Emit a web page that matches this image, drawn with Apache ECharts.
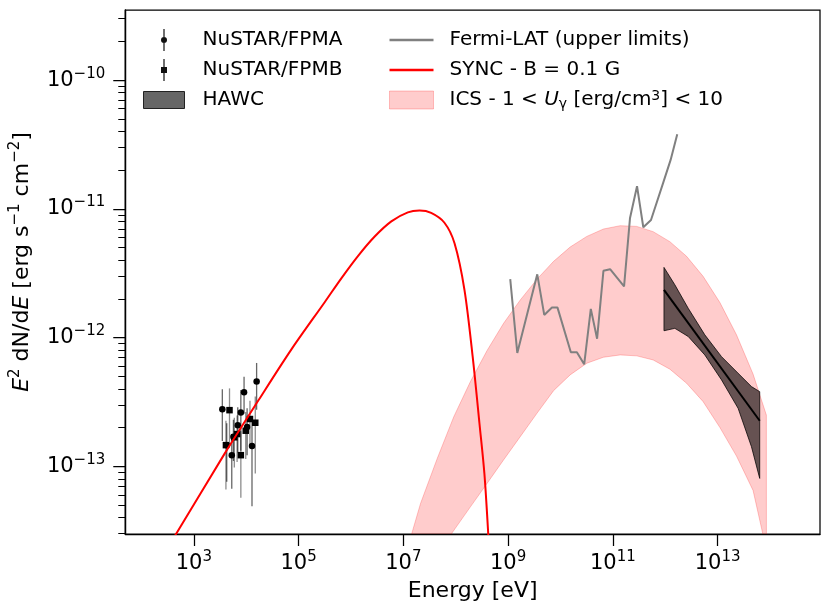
<!DOCTYPE html>
<html>
<head>
<meta charset="utf-8">
<title>SED - NuSTAR / Fermi-LAT / HAWC</title>
<script src="https://cdn.jsdelivr.net/npm/echarts@6/dist/echarts.min.js"></script>
<style>
  html, body { margin: 0; padding: 0; background: #fff; }
  #chart { width: 830px; height: 616px; }
</style>
</head>
<body>
<div id="chart"></div>
<script>
// ---- data (energy in eV, flux in erg s^-1 cm^-2) ----
// NuSTAR
var fpmaE   = [3.5e3, 4.25e3, 5.3e3, 5.7e3, 6.9e3, 7.9e3, 9.1e3, 1.04e4, 1.29e4, 1.58e4];
var fpmaF   = [2.77e-13, 1.46e-13, 1.22e-13, 1.7e-13, 2.08e-13, 2.62e-13, 3.76e-13, 2.02e-13, 1.44e-13, 4.55e-13];
var fpmaErr = [1.2e-13, 0.7e-13, 0.55e-13, 0.6e-13, 0.8e-13, 1.3e-13, 1.2e-13, 0.8e-13, 0.95e-13, 1.8e-13];
var fpmbE   = [4.1e3, 4.8e3, 5.93e3, 6.7e3, 7.9e3, 9.8e3, 1.18e4, 1.49e4];
var fpmbF   = [1.46e-13, 2.73e-13, 1.68e-13, 1.78e-13, 1.22e-13, 1.89e-13, 2.33e-13, 2.18e-13];
var fpmbErr = [0.8e-13, 1.3e-13, 0.7e-13, 0.7e-13, 0.65e-13, 0.75e-13, 0.9e-13, 1.3e-13];

// synchrotron model, B = 0.1 G
var syncE = [2.5e2, 4.4e2, 3.9e3, 1.7e4, 7.3e4, 3.2e5, 6.6e5, 1.36e6, 2.84e6, 5.9e6, 1.22e7,
             2.04e7, 3.4e7, 6.1e7, 9.5e7, 1.47e8, 2.11e8, 2.84e8, 3.53e8, 4.2e8, 5.0e8];
var syncF = [2.0e-14, 2.9e-14, 1.26e-13, 3.24e-13, 8.1e-13, 1.9e-12, 2.9e-12, 4.3e-12, 6.1e-12, 8.0e-12, 9.4e-12,
             9.7e-12, 9.3e-12, 7.8e-12, 5.4e-12, 2.35e-12, 7.1e-13, 2.16e-13, 8.8e-14, 2.9e-14, 8e-15];

// ICS band, upper edge (U = 10) and lower edge (U = 1)
var icsUpE = [1.0e7, 1.42e7, 2.13e7, 4.44e7, 9.2e7, 1.91e8, 3.97e8, 8.2e8, 1.71e9, 3.56e9, 7.4e9, 1.53e10,
              3.19e10, 6.6e10, 1.38e11, 2.86e11, 5.9e11, 1.23e12, 2.56e12, 5.3e12, 1.11e13, 2.30e13,
              4.76e13, 8.55e13, 8.6e13];
var icsUpF = [1.8e-14, 2.92e-14, 5.14e-14, 1.15e-13, 2.43e-13, 4.55e-13, 7.93e-13, 1.29e-12, 1.96e-12, 2.84e-12,
              3.91e-12, 5.05e-12, 6.11e-12, 6.97e-12, 7.40e-12, 7.31e-12, 6.65e-12, 5.56e-12, 4.28e-12,
              2.99e-12, 1.87e-12, 1.05e-12, 5.21e-13, 2.50e-13, 1e-15];
var icsLoE = [4.0e7, 7.96e7, 1.91e8, 3.97e8, 8.2e8, 1.71e9, 3.56e9, 7.4e9, 1.53e10, 3.19e10, 6.6e10,
              1.38e11, 2.86e11, 5.9e11, 1.23e12, 2.56e12, 5.3e12, 1.11e13, 2.30e13, 4.76e13, 7.4e13, 8.6e13];
var icsLoF = [6e-15, 2.92e-14, 4.84e-14, 7.36e-14, 1.12e-13, 1.70e-13, 2.58e-13, 3.87e-13, 5.13e-13, 6.32e-13,
              7.03e-13, 7.33e-13, 7.21e-13, 6.70e-13, 5.68e-13, 4.42e-13, 3.18e-13, 2.0e-13, 1.20e-13,
              6.5e-14, 2.92e-14, 1e-15];

// Fermi-LAT upper limits
var fermiE = [1.10e9, 1.50e9, 3.61e9, 4.91e9, 6.89e9, 8.79e9, 1.58e10, 2.06e10, 2.84e10, 3.80e10, 5.01e10,
              6.62e10, 8.87e10, 1.64e11, 2.13e11, 2.90e11, 3.82e11, 5.36e11, 9.18e11, 1.27e12, 1.70e12];
var fermiF = [2.85e-12, 7.6e-13, 3.1e-12, 1.5e-12, 1.71e-12, 1.71e-12, 7.7e-13, 7.7e-13, 6.2e-13, 1.67e-12, 9.8e-13,
              3.3e-12, 3.4e-12, 2.5e-12, 8.5e-12, 1.5e-11, 7.2e-12, 8.2e-12, 1.6e-11, 2.4e-11, 3.8e-11];

// HAWC butterfly and best fit
var hawcE   = [9.48e11, 1.53e12, 2.75e12, 5.71e12, 1.19e13, 2.47e13, 4.44e13, 6.38e13];
var hawcUpF = [3.51e-12, 2.57e-12, 1.69e-12, 1.05e-12, 7.11e-13, 5.28e-13, 4.16e-13, 3.80e-13];
var hawcLoF = [1.13e-12, 1.18e-12, 1.02e-12, 7.33e-13, 4.69e-13, 2.82e-13, 1.42e-13, 8.05e-14];
var hawcFitE = [9.48e11, 6.38e13];
var hawcFitF = [2.35e-12, 2.26e-13];

// axis ticks (powers of ten)
var xTickPowers = [3, 5, 7, 9, 11, 13];
var yTickPowers = [-13, -12, -11, -10];

// ---- helpers ----
var FONT = 'DejaVu Sans';
var xMin = 1.691, xMax = 14.956;
var yMin = -13.526, yMax = -9.455;

function lg(v) { return Math.log10(v); }
function pairs(E, F) {
  return E.map(function (e, i) { return [lg(e), lg(F[i])]; });
}
function errRows(E, F, Err) {
  return E.map(function (e, i) { return [lg(e), lg(F[i] + Err[i]), lg(F[i] - Err[i])]; });
}
function bandPoints(E, upF, loE, loF) {
  var up = pairs(E, upF);
  var lo = pairs(loE, loF).reverse();
  return up.concat(lo);
}

// minor ticks on y: 2..9 x 10^n inside the range
var yMinor = [];
for (var n = -14; n <= -10; n++) {
  for (var k = 2; k <= 9; k++) {
    var t = n + Math.log10(k);
    if (t > yMin && t < yMax) yMinor.push(t);
  }
}

function polygonRender(points, fill, stroke, width) {
  return function (params, api) {
    return {
      type: 'polygon',
      shape: { points: points.map(function (p) { return api.coord(p); }) },
      style: { fill: fill, stroke: stroke, lineWidth: width }
    };
  };
}
function errRender(color) {
  return function (params, api) {
    var a = api.coord([api.value(0), api.value(1)]);
    var b = api.coord([api.value(0), api.value(2)]);
    return {
      type: 'line',
      shape: { x1: a[0], y1: a[1], x2: b[0], y2: b[1] },
      style: { stroke: color, lineWidth: 1.3 }
    };
  };
}

var icsName = 'ICS - 1 < Uγ [erg/cm3] < 10';
var icsFill = 'rgba(255,0,0,0.2)';
var icsEdge = 'rgba(255,0,0,0.22)';
var hawcFill = 'rgba(0,0,0,0.6)';
var lineIcon = 'path://M0,0h44v2.6h-44z';

var supStyle = { fontFamily: FONT, fontSize: 15, lineHeight: 18, verticalAlign: 'top', color: '#000' };
var baseStyle = { fontFamily: FONT, fontSize: 21, lineHeight: 28, color: '#000' };

var chart = echarts.init(document.getElementById('chart'));

var option = {
  animation: false,
  backgroundColor: '#fff',
  grid: {
    left: 124, right: 10, top: 10, bottom: 82,
    show: true, borderColor: '#000', borderWidth: 1.25, backgroundColor: 'transparent'
  },
  legend: [{
    orient: 'vertical', left: 143, top: 29, padding: 0,
    itemWidth: 41, itemHeight: 22, itemGap: 8,
    selectedMode: false,
    textStyle: { fontFamily: FONT, fontSize: 20, lineHeight: 22, color: '#000', padding: [0, 0, 0, 13] },
    data: [
      { name: 'NuSTAR/FPMA', icon: 'path://M2.4,0h1.2v8h-1.2zM2.4,14h1.2v8h-1.2zM0,11A3,3 0 1,1 6,11A3,3 0 1,1 0,11z', itemStyle: { color: '#111' } },
      { name: 'NuSTAR/FPMB', icon: 'path://M2.4,0h1.2v8h-1.2zM2.4,14h1.2v8h-1.2zM0,8h6v6h-6z', itemStyle: { color: '#111' } },
      { name: 'HAWC', icon: 'path://M0,0h41v17h-41z', itemStyle: { color: hawcFill, borderColor: '#222', borderWidth: 1 } }
    ]
  }, {
    orient: 'vertical', left: 389, top: 29, padding: 0,
    itemWidth: 44, itemHeight: 22, itemGap: 8,
    selectedMode: false,
    textStyle: {
      fontFamily: FONT, fontSize: 20, lineHeight: 22, color: '#000', padding: [0, 0, 0, 11],
      rich: {
        i: { fontFamily: FONT, fontSize: 20, fontStyle: 'italic', color: '#000' },
        sub: { fontFamily: FONT, fontSize: 14, lineHeight: 14, verticalAlign: 'bottom', color: '#000' },
        sup: { fontFamily: FONT, fontSize: 14, lineHeight: 14, verticalAlign: 'top', color: '#000' }
      }
    },
    formatter: function (name) {
      if (name === icsName) return 'ICS - 1 < {i|U}{sub|γ} [erg/cm{sup|3}] < 10';
      return name;
    },
    data: [
      { name: 'Fermi-LAT (upper limits)', icon: lineIcon, itemStyle: { color: '#808080' } },
      { name: 'SYNC - B = 0.1 G', icon: lineIcon, itemStyle: { color: '#ff0000' } },
      { name: icsName, icon: 'path://M0,0h44v18h-44z', itemStyle: { color: icsFill, borderColor: icsEdge, borderWidth: 1 } }
    ]
  }],
  xAxis: {
    type: 'value', min: xMin, max: xMax,
    name: 'Energy [eV]', nameLocation: 'middle', nameGap: 46,
    nameTextStyle: { fontFamily: FONT, fontSize: 22, color: '#000' },
    axisLine: { show: true, onZero: false, lineStyle: { color: '#000', width: 1.25 } },
    axisTick: { show: true, length: 12, lineStyle: { color: '#000', width: 1.25 }, customValues: xTickPowers },
    axisLabel: {
      customValues: xTickPowers, margin: 16,
      formatter: function (v) { return '{b|10}{s|' + v + '}'; },
      rich: { b: baseStyle, s: supStyle }
    },
    splitLine: { show: false }
  },
  yAxis: [{
    type: 'value', min: yMin, max: yMax,
    name: '{i|E}{s|2} dN/d{i|E} [erg s{s|−1} cm{s|−2}]',
    nameLocation: 'middle', nameGap: 82, nameRotate: 90,
    nameTextStyle: {
      fontFamily: FONT, fontSize: 22, lineHeight: 28, color: '#000', padding: [0, 0, 0, 20],
      rich: {
        i: { fontFamily: FONT, fontSize: 22, fontStyle: 'italic', color: '#000' },
        s: { fontFamily: FONT, fontSize: 15, lineHeight: 18, verticalAlign: 'top', color: '#000' }
      }
    },
    axisLine: { show: true, onZero: false, lineStyle: { color: '#000', width: 1.25 } },
    axisTick: { show: true, length: 12, lineStyle: { color: '#000', width: 1.25 }, customValues: yTickPowers },
    axisLabel: {
      customValues: yTickPowers, margin: 20,
      formatter: function (v) { return '{b|10}{s|−' + Math.abs(v) + '}'; },
      rich: { b: baseStyle, s: supStyle }
    },
    splitLine: { show: false }
  }, {
    // minor ticks only
    type: 'value', min: yMin, max: yMax, position: 'left', offset: 0,
    axisLine: { show: true, onZero: false, lineStyle: { color: '#000', width: 1.25 } },
    axisTick: { show: true, length: 7, lineStyle: { color: '#000', width: 1 }, customValues: yMinor },
    axisLabel: { show: false },
    splitLine: { show: false }
  }],
  series: [
    {
      name: icsName, type: 'custom', clip: true, z: 1,
      itemStyle: { color: icsFill },
      renderItem: polygonRender(bandPoints(icsUpE, icsUpF, icsLoE, icsLoF), icsFill, icsEdge, 1),
      data: [[lg(icsUpE[0]), lg(icsUpF[0])]]
    },
    {
      name: 'fpmaErr', type: 'custom', clip: true,
      renderItem: errRender('rgba(0,0,0,0.6)'),
      encode: { x: 0, y: [1, 2] },
      data: errRows(fpmaE, fpmaF, fpmaErr)
    },
    {
      name: 'fpmbErr', type: 'custom', clip: true, yAxisIndex: 1,
      renderItem: errRender('rgba(0,0,0,0.45)'),
      encode: { x: 0, y: [1, 2] },
      data: errRows(fpmbE, fpmbF, fpmbErr)
    },
    {
      name: 'NuSTAR/FPMA', type: 'scatter', symbol: 'circle', symbolSize: 6.5,
      itemStyle: { color: '#000', opacity: 1 },
      data: pairs(fpmaE, fpmaF)
    },
    {
      name: 'NuSTAR/FPMB', type: 'scatter', symbol: 'rect', symbolSize: 6.5,
      itemStyle: { color: '#000', opacity: 1 },
      data: pairs(fpmbE, fpmbF)
    },
    {
      name: 'SYNC - B = 0.1 G', type: 'line', symbol: 'none', smooth: 0.3,
      lineStyle: { color: '#ff0000', width: 2 }, itemStyle: { color: '#ff0000' },
      data: pairs(syncE, syncF)
    },
    {
      name: 'Fermi-LAT (upper limits)', type: 'line', symbol: 'none',
      lineStyle: { color: '#808080', width: 2 }, itemStyle: { color: '#808080' },
      data: pairs(fermiE, fermiF)
    },
    {
      name: 'HAWC', type: 'custom', clip: true,
      itemStyle: { color: hawcFill },
      renderItem: polygonRender(bandPoints(hawcE, hawcUpF, hawcE, hawcLoF), hawcFill, 'rgba(0,0,0,0.75)', 1),
      data: [[lg(hawcE[0]), lg(hawcUpF[0])]]
    },
    {
      name: 'hawcFit', type: 'line', symbol: 'none',
      lineStyle: { color: '#000', width: 2 },
      data: pairs(hawcFitE, hawcFitF)
    }
  ]
};

chart.setOption(option);
</script>
</body>
</html>
